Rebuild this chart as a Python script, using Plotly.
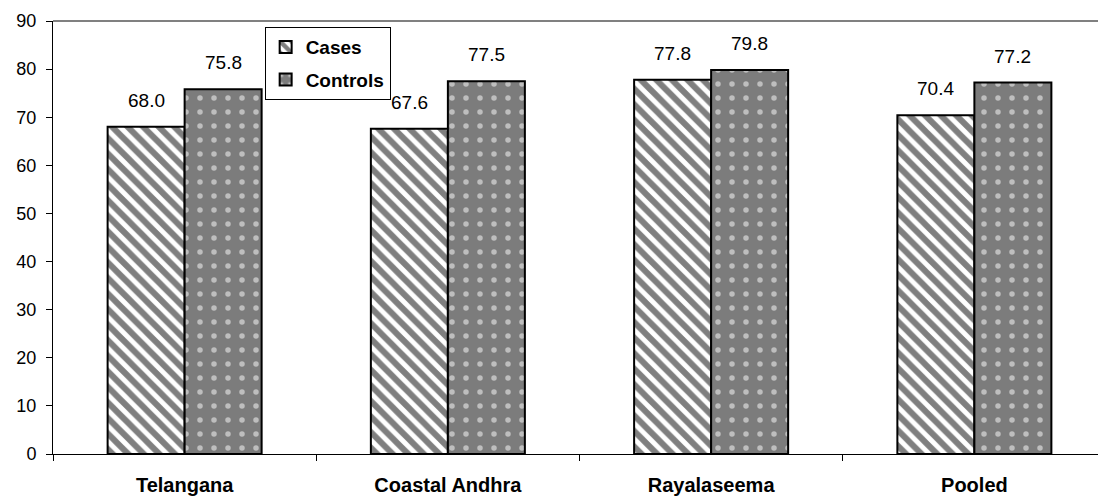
import plotly.graph_objects as go

categories = ["Telangana", "Coastal Andhra", "Rayalaseema", "Pooled"]
cases = [68.0, 67.6, 77.8, 70.4]
controls = [75.8, 77.5, 79.8, 77.2]
y_ticks = [0, 10, 20, 30, 40, 50, 60, 70, 80, 90]

FONT = "Liberation Sans, Arial, sans-serif"
# page body has an 8px margin; size the figure to fill the rest of the window
W, H = 1098, 490
ML, MR, MT, MB = 45, 0, 13, 44
BARGAP = 0.415

fig = go.Figure()
fig.add_trace(go.Bar(
    x=categories, y=cases, name="<b>Cases</b>", legendgroup="a",
    marker=dict(color="white", line=dict(color="black", width=2),
                pattern=dict(shape="\\", fgcolor="black", bgcolor="white",
                             size=11, solidity=0.55)),
))
fig.add_trace(go.Bar(
    x=categories, y=controls, name="<b>Controls</b>", legendgroup="b",
    marker=dict(color="#7c7c7c", line=dict(color="black", width=2),
                pattern=dict(shape=".", fgcolor="white", bgcolor="#7c7c7c",
                             size=14, solidity=0.12)),
))

# value labels above bars
plot_w = W - ML - MR
bar_px = plot_w / len(categories) * (1 - BARGAP) / 2
for series, sign in ((cases, -1), (controls, 1)):
    for c, v in zip(categories, series):
        fig.add_annotation(x=c, y=v, xref="x", yref="y", text=f"{v:.1f}",
                           showarrow=False, xanchor="center", yanchor="bottom",
                           xshift=sign * bar_px / 2, yshift=14,
                           font=dict(size=19, family=FONT, color="black"))

fig.add_shape(type="line", xref="paper", yref="paper", x0=0, x1=1, y0=1, y1=1,
              line=dict(color="#808080", width=2))

fig.update_layout(
    width=W, height=H,
    margin=dict(l=ML, r=MR, t=MT, b=MB),
    paper_bgcolor="white", plot_bgcolor="white",
    barmode="group", bargap=BARGAP, bargroupgap=0,
    font=dict(family=FONT, size=18, color="black"),
    showlegend=True,
    legend=dict(x=0.201, y=0.986, xanchor="left", yanchor="top",
                bgcolor="white", bordercolor="black", borderwidth=1,
                font=dict(size=19, family=FONT, color="black"),
                tracegroupgap=5, itemwidth=30),
    xaxis=dict(showline=True, linecolor="black", linewidth=1,
               ticks="outside", ticklen=6, tickcolor="black",
               tickson="boundaries", showgrid=False, automargin=False,
               ticklabelstandoff=13,
               tickfont=dict(size=20, family=FONT, color="black"),
               tickvals=categories,
               ticktext=[f"<b>{c}</b>" for c in categories]),
    yaxis=dict(range=[0, 90], tickvals=y_ticks, showline=True, linecolor="black",
               linewidth=1, ticks="outside", ticklen=6, tickcolor="black",
               showgrid=False, zeroline=False, automargin=False,
               ticklabelstandoff=6,
               tickfont=dict(size=18, family=FONT, color="black")),
)

fig.write_html("out.html")
